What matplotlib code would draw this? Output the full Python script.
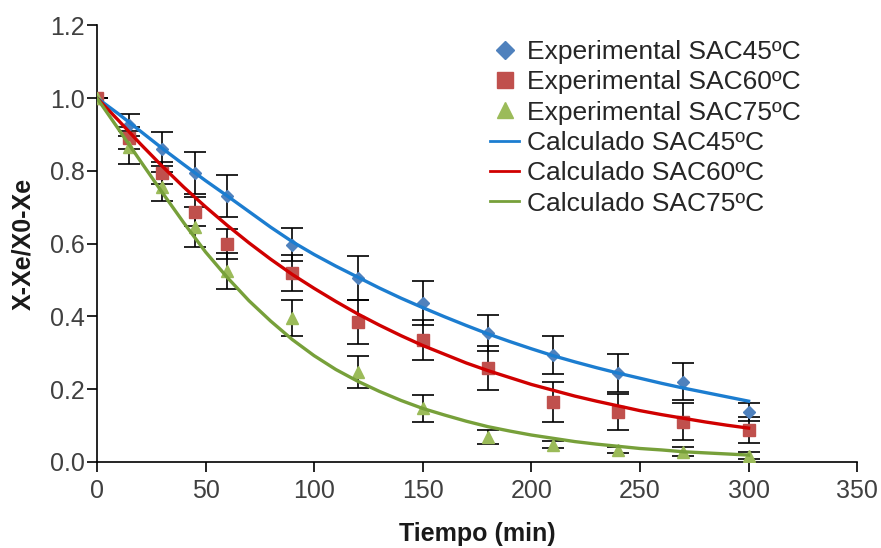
import numpy as np
import matplotlib
matplotlib.use("Agg")
import matplotlib.pyplot as plt
from matplotlib.lines import Line2D

plt.rcParams['font.family'] = ['Liberation Sans', 'DejaVu Sans']

# experimental points (min, X-Xe/X0-Xe) and error bars
t_exp = [0, 15, 30, 45, 60, 90, 120, 150, 180, 210, 240, 270, 300]
exp45 = [1.0, 0.926, 0.86, 0.794, 0.731, 0.597, 0.505, 0.436, 0.354, 0.294, 0.244, 0.221, 0.138]
err45 = [0.0, 0.03, 0.047, 0.058, 0.057, 0.046, 0.06, 0.06, 0.05, 0.052, 0.053, 0.052, 0.025]
exp60 = [1.0, 0.89, 0.794, 0.688, 0.599, 0.519, 0.385, 0.335, 0.258, 0.165, 0.138, 0.111, 0.088]
err60 = [0.0, 0.03, 0.03, 0.04, 0.04, 0.05, 0.06, 0.055, 0.06, 0.055, 0.05, 0.05, 0.035]
exp75 = [1.0, 0.865, 0.756, 0.646, 0.524, 0.396, 0.247, 0.148, 0.068, 0.047, 0.033, 0.028, 0.017]
err75 = [0.0, 0.045, 0.04, 0.055, 0.05, 0.05, 0.045, 0.037, 0.02, 0.01, 0.008, 0.012, 0.01]

# calculated curves every 10 min
t_calc = list(range(0, 301, 10))
calc45 = [1.0, 0.956, 0.909, 0.862, 0.817, 0.773, 0.731, 0.688, 0.645, 0.605, 0.570,
          0.538, 0.508, 0.478, 0.450, 0.424, 0.399, 0.375, 0.352, 0.331, 0.311,
          0.292, 0.275, 0.259, 0.244, 0.230, 0.216, 0.203, 0.191, 0.179, 0.167]
calc60 = [1.0, 0.938, 0.874, 0.813, 0.755, 0.701, 0.650, 0.602, 0.557, 0.515, 0.477,
          0.441, 0.407, 0.376, 0.347, 0.320, 0.296, 0.272, 0.251, 0.232, 0.213,
          0.197, 0.181, 0.167, 0.154, 0.141, 0.130, 0.120, 0.110, 0.101, 0.093]
calc75 = [1.0, 0.914, 0.827, 0.741, 0.657, 0.577, 0.507, 0.443, 0.387, 0.336, 0.292,
          0.254, 0.222, 0.194, 0.169, 0.147, 0.129, 0.112, 0.097, 0.085, 0.074,
          0.065, 0.056, 0.049, 0.043, 0.037, 0.033, 0.028, 0.025, 0.022, 0.019]

labels_exp = ['Experimental SAC45ºC', 'Experimental SAC60ºC', 'Experimental SAC75ºC']
labels_calc = ['Calculado SAC45ºC', 'Calculado SAC60ºC', 'Calculado SAC75ºC']
mk_colors = ['#4F81BD', '#C0504D', '#9BBB59']
ln_colors = ['#1C7DD0', '#D00000', '#77A03A']
markers = ['D', 's', '^']
msizes = [6, 8, 8]

fig = plt.figure(figsize=(8.81, 5.48), dpi=100)
ax = fig.add_axes([0.110, 0.157, 0.863, 0.797])

handles = []
for y, e, c, m, ms in zip([exp45, exp60, exp75], [err45, err60, err75], mk_colors, markers, msizes):
    ax.errorbar(t_exp, y, yerr=e, fmt='none', ecolor='black', elinewidth=1.2,
                capsize=8, capthick=1.2, zorder=2)
    ax.plot(t_exp, y, linestyle='none', marker=m, color=c, markersize=ms, zorder=3)
for lab, c, m, ms in zip(labels_exp, mk_colors, markers, msizes):
    handles.append(Line2D([], [], linestyle='none', marker=m, color=c, markersize=ms + 3, label=lab))

for y, c, lab in zip([calc45, calc60, calc75], ln_colors, labels_calc):
    ax.plot(t_calc, y, color=c, linewidth=2.4, zorder=4)
    handles.append(Line2D([], [], color=c, linewidth=2, label=lab))

ax.set_xlim(0, 350)
ax.set_ylim(0, 1.2)
ax.set_xticks(range(0, 351, 50))
ax.set_yticks(np.arange(0, 1.21, 0.2))
ax.yaxis.set_major_formatter(matplotlib.ticker.FormatStrFormatter('%.1f'))
for s in ['top', 'right']:
    ax.spines[s].set_visible(False)
for s in ['left', 'bottom']:
    ax.spines[s].set_linewidth(1.2)
ax.tick_params(direction='out', length=7, width=1.2, labelsize=18, colors='black',
               labelcolor='#404040')
ax.tick_params(axis='x', pad=5)
ax.tick_params(axis='y', pad=2)
ax.set_xlabel('Tiempo (min)', fontsize=18, fontweight='bold', labelpad=14, color='#1a1a1a')
ax.set_ylabel('X-Xe/X0-Xe', fontsize=18, fontweight='bold', labelpad=10, color='#1a1a1a')

leg = fig.legend(handles=handles, loc='upper left', bbox_to_anchor=(490 / 881, 1 - 40 / 548),
                 frameon=False, fontsize=19, handlelength=1.1, handletextpad=0.3,
                 labelspacing=0.24, borderpad=0, borderaxespad=0, labelcolor='#262626')

fig.savefig('out.png', dpi=100)
